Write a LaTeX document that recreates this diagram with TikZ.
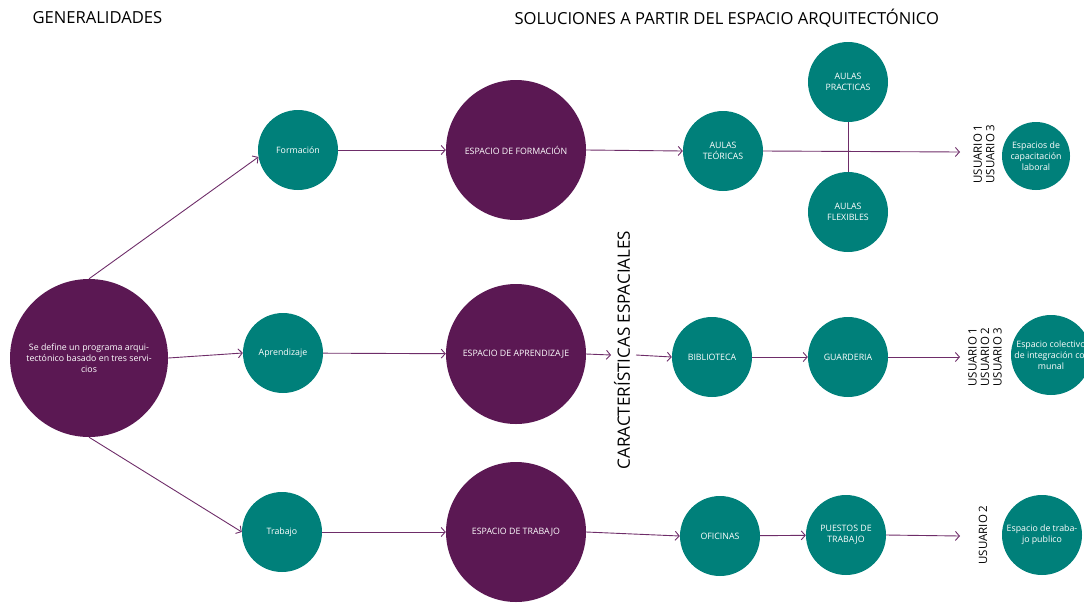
\documentclass[tikz,border=0pt]{standalone}
\usepackage{fontspec}
\setmainfont{Open Sans}
\usetikzlibrary{arrows.meta,positioning}
\definecolor{vino}{HTML}{5B1853}
\definecolor{verde}{HTML}{00807A}
\definecolor{trazo}{HTML}{6E2D69}

\begin{document}
\begin{tikzpicture}[x=1pt,y=-1pt,
    circ/.style={circle,inner sep=0pt,align=center,text=white,
      font=\fontsize{8.8}{10.8}\selectfont},
    morado/.style={circ,fill=vino,minimum size=140pt},
    turq/.style={circ,fill=verde,minimum size=80pt},
    flecha/.style={draw=trazo,line width=0.9pt,-{Straight Barb[length=4pt,width=9pt]}},
    linea/.style={draw=trazo,line width=0.9pt},
    usuario/.style={rotate=90,align=center,font=\fontsize{11.5}{12.5}\selectfont},
    titulo/.style={anchor=west,font=\fontsize{16.6}{18}\selectfont}]

    \useasboundingbox (0,0) rectangle (1084,603);

    % titulos
    \node[titulo] (gen) at (29,18) {GENERALIDADES};
    \node[titulo] (sol) at (511,18) {SOLUCIONES A PARTIR DEL ESPACIO ARQUITECTÓNICO};

    % generalidades
    \node[morado,minimum size=158pt] (prog) at (89,358)
      {Se define un programa arqui-\\tectónico basado en tres servi-\\cios};
    \node[turq] (form) at (298,150) {Formación};
    \node[turq] (apre) at (283,353) {Aprendizaje};
    \node[turq] (trab) at (282,532) {Trabajo};

    \node[morado] (eform) at (516,150) {ESPACIO DE FORMACIÓN};
    \node[morado] (eapre) at (516,354) {ESPACIO DE APRENDIZAJE};
    \node[morado] (etrab) at (516,532) {ESPACIO DE TRABAJO};

    \node[rotate=90,font=\fontsize{17}{19}\selectfont] (carac) at (622,350)
      {CARACTERÍSTICAS ESPACIALES};

    % soluciones
    \node[turq] (teor) at (723,151) {AULAS\\TEÓRICAS};
    \node[turq] (prac) at (848,82) {AULAS\\PRACTICAS};
    \node[turq] (flex) at (848,212) {AULAS\\FLEXIBLES};
    \node[turq] (bibl) at (712,357) {BIBLIOTECA};
    \node[turq] (guar) at (848,357) {GUARDERIA};
    \node[turq] (ofic) at (720,536) {OFICINAS};
    \node[turq] (pues) at (846,535) {PUESTOS DE\\TRABAJO};

    \node[usuario] (u1) at (984,154) {USUARIO 1\\USUARIO 3};
    \node[usuario] (u2) at (985,357) {USUARIO 1\\USUARIO 2\\USUARIO 3};
    \node[usuario] (u3) at (983,535) {USUARIO 2};

    \node[turq,minimum size=68pt] (capa) at (1036,156) {Espacios de\\capacitación\\laboral};
    \node[turq] (cole) at (1051,355) {Espacio colectivo\\de integración co-\\munal};
    \node[turq] (publ) at (1042,535) {Espacio de traba-\\jo publico};

    \coordinate (a1) at (960,152);
    \coordinate (a2) at (960,357);
    \coordinate (a3) at (960,536);
    \coordinate (c1) at (611,355);
    \coordinate (c2) at (636,355);

    % conectores
    \draw[flecha] (prog.north) -- (form.190);
    \draw[flecha] (prog.east) -- (apre.west);
    \draw[flecha] (prog.south) -- (trab.west);
    \draw[flecha] (form) -- (eform);
    \draw[flecha] (apre) -- (eapre);
    \draw[flecha] (trab) -- (etrab);
    \draw[flecha] (eform.east) -- (teor.west);
    \draw[flecha] (eapre.east) -- (c1);
    \draw[flecha] (c2) -- (bibl.west);
    \draw[flecha] (etrab.east) -- (ofic.west);
    \draw[flecha] (teor.east) -- (a1);
    \draw[linea] (prac.south) -- (flex.north);
    \draw[flecha] (bibl) -- (guar);
    \draw[flecha] (guar.east) -- (a2);
    \draw[flecha] (ofic) -- (pues);
    \draw[flecha] (pues.east) -- (a3);
\end{tikzpicture}
\end{document}
